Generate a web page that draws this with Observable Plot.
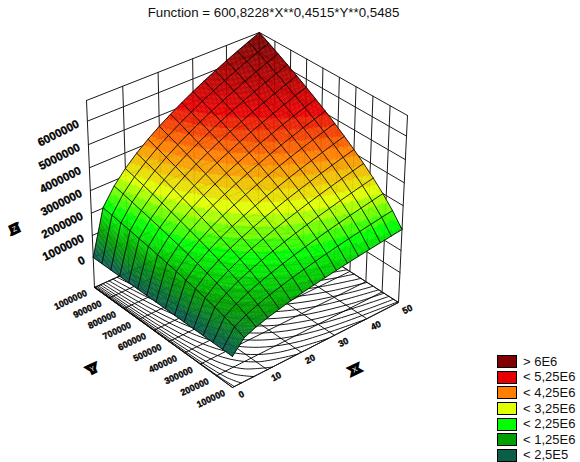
<!DOCTYPE html>
<html><head><meta charset="utf-8">
<script src="https://cdn.jsdelivr.net/npm/d3@7"></script>
<script src="https://cdn.jsdelivr.net/npm/@observablehq/plot@0.6"></script>
<style>
html,body{margin:0;padding:0;background:#fff;}
#wrap{position:relative;width:580px;height:462px;overflow:hidden;font-family:"Liberation Sans",Arial,sans-serif;color:#111;}
#title{position:absolute;left:0;top:5px;width:547px;text-align:center;font-size:13.3px;line-height:16px;white-space:nowrap;}
#legend{position:absolute;left:497px;top:354px;}
.row{display:flex;align-items:center;height:15.6px;font-size:13px;line-height:14px;white-space:nowrap;}
.sw{box-sizing:border-box;width:20px;height:13px;border:1.4px solid #000;margin-right:6px;flex:none;}
svg{display:block;}
</style></head><body>
<div id="wrap"><div id="title"></div><div id="chart"></div><div id="legend"></div></div>
<script>
const titleText = "Function = 600,8228*X**0,4515*Y**0,5485";
const xGrid = [0,3.33,6.67,10,13.33,16.67,20,23.33,26.67,30,33.33,36.67,40,43.33,46.67,50];
const yGrid = [100000,160000,220000,280000,340000,400000,460000,520000,580000,640000,700000,760000,820000,880000,940000,1000000];
// surface heights in thousands, one row per xGrid value, one column per yGrid value
const zThousands = [
[0,0,0,0,0,0,0,0,0,0,0,0,0,0,0,0],
[572,740,881,1006,1119,1223,1321,1413,1500,1583,1663,1739,1814,1885,1955,2022],
[782,1012,1205,1376,1530,1673,1806,1932,2051,2165,2274,2379,2480,2578,2673,2765],
[939,1216,1447,1652,1838,2009,2169,2320,2463,2600,2731,2856,2978,3096,3210,3321],
[1069,1384,1648,1881,2093,2288,2470,2642,2805,2961,3110,3253,3392,3525,3655,3782],
[1182,1531,1822,2081,2314,2530,2732,2921,3102,3274,3439,3597,3751,3899,4042,4182],
[1284,1662,1979,2259,2513,2747,2966,3172,3369,3555,3734,3906,4073,4234,4390,4541],
[1376,1782,2121,2422,2694,2945,3180,3401,3611,3811,4003,4188,4366,4538,4706,4868],
[1462,1893,2253,2573,2862,3128,3378,3612,3836,4048,4252,4448,4638,4821,4999,5171],
[1542,1996,2376,2713,3018,3299,3562,3810,4045,4269,4485,4691,4891,5084,5271,5453],
[1617,2093,2492,2845,3165,3460,3736,3995,4243,4477,4703,4920,5129,5332,5528,5719],
[1688,2185,2602,2970,3304,3612,3900,4171,4429,4674,4910,5136,5355,5566,5771,5970],
[1756,2273,2706,3090,3437,3757,4056,4338,4607,4862,5107,5342,5570,5790,6003,6210],
[1820,2357,2806,3203,3563,3895,4205,4498,4776,5040,5294,5538,5774,6002,6223,6438],
[1882,2437,2901,3312,3684,4027,4348,4651,4939,5212,5475,5727,5971,6206,6435,6657],
[1942,2514,2993,3417,3801,4155,4486,4798,5095,5377,5648,5908,6160,6403,6639,6868]
];
const xTicks = [0,10,20,30,40,50];
const yTicks = [100000,200000,300000,400000,500000,600000,700000,800000,900000,1000000];
const zTicks = [0,1000000,2000000,3000000,4000000,5000000,6000000];
const contourLevels = d3.range(250000,6800000,250000);
const rampLevels = [250000,1250000,2250000,3250000,4250000,5250000,6750000];
const legendColors = ["#0b5f48","#00a000","#00ff00","#e0ff00","#ff8000","#e60000","#800000"];
const legendLabels = ["< 2,5E5","< 1,25E6","< 2,25E6","< 3,25E6","< 4,25E6","< 5,25E6","> 6E6"];

// axis extents of the box and the camera of the view
const xMin=0,xMax=50,yMin=100000,yMax=1000000,zMin=-1390000,zMax=6870000;
const cam={a:[232,190.17,-131.87,-13.36],b:[387,-66.66,-81.28,-204.83],d:[1,.06072,.06523,-.05629]};
function project(X,Y,Z){
  const u=(X-xMin)/(xMax-xMin),v=(Y-yMin)/(yMax-yMin),w=(Z-zMin)/(zMax-zMin);
  const dot=c=>c[0]+c[1]*u+c[2]*v+c[3]*w, h=dot(cam.d);
  return [dot(cam.a)/h,dot(cam.b)/h];
}
let gid=0;
function polyline(pts){const id=gid++;return pts.map(p=>{const q=project(p[0],p[1],p[2]);return {x:q[0],y:q[1],id};});}

// box: walls and floor
let box=[];
for(const z of [zMin,...zTicks,zMax]){
  box.push(...polyline([[xMin,yMax,z],[xMax,yMax,z],[xMax,yMin,z]]));
}
box.push(...polyline([[xMin,yMin,zMin],[xMin,yMax,zMin]]));
box.push(...polyline([[xMin,yMin,zMin],[xMax,yMin,zMin]]));
for(const x of xTicks){
  box.push(...polyline([[x,yMin,zMin],[x,yMax,zMin],[x,yMax,zMax]]));
}
for(const y of yTicks){
  box.push(...polyline([[xMin,y,zMin],[xMax,y,zMin],[xMax,y,zMax]]));
}

// floor contours
const lastRow=xGrid.length-1;
const Z=(i,j)=>zThousands[i][j]*1000;
function contour(level){
  const pts=[],L=Math.log(level);
  for(let j=0;j<yGrid.length;j++){
    if(Z(lastRow,j)<level){
      continue;
    }
    if(j>0&&Z(lastRow,j-1)<level){
      const t=(L-Math.log(Z(lastRow,j-1)))/(Math.log(Z(lastRow,j))-Math.log(Z(lastRow,j-1)));
      pts.push([xMax,Math.exp(Math.log(yGrid[j-1])+t*(Math.log(yGrid[j])-Math.log(yGrid[j-1]))),zMin]);
    }
    let i=1; while(i<lastRow-1&&Z(i+1,j)<level)i++;
    const t=(L-Math.log(Z(i,j)))/(Math.log(Z(i+1,j))-Math.log(Z(i,j)));
    pts.push([Math.exp(Math.log(xGrid[i])+t*(Math.log(xGrid[i+1])-Math.log(xGrid[i]))),yGrid[j],zMin]);
  }
  return polyline(pts);
}
const contours=contourLevels.flatMap(contour);

// surface patches, back to front, shaded by height band
const N=8,bandStep=250000,patches=[];
for(let i=xGrid.length-2;i>=0;i--)for(let j=yGrid.length-2;j>=0;j--){
  for(let a=N-1;a>=0;a--)for(let b=N-1;b>=0;b--){
    const at=(s,t)=>{
      const z=(1-s)*(1-t)*Z(i,j)+s*(1-t)*Z(i+1,j)+(1-s)*t*Z(i,j+1)+s*t*Z(i+1,j+1);
      return [xGrid[i]+s*(xGrid[i+1]-xGrid[i]),yGrid[j]+t*(yGrid[j+1]-yGrid[j]),z];
    };
    const c=[at(a/N,b/N),at((a+1)/N,b/N),at((a+1)/N,(b+1)/N),at(a/N,(b+1)/N)];
    const mean=d3.mean(c,d=>d[2]),band=Math.ceil(mean/bandStep)*bandStep;
    const rows=polyline([...c,c[0]]);
    rows.forEach(r=>r.v=band);
    patches.push(...rows);
  }
}
// surface mesh
let mesh=[];
xGrid.forEach((x,i)=>mesh.push(...polyline(yGrid.map((y,j)=>[x,y,Z(i,j)]))));
yGrid.forEach((y,j)=>mesh.push(...polyline(xGrid.map((x,i)=>[x,y,Z(i,j)]))));

const lbl=(vals,f)=>vals.map(v=>{const q=f(v);return {x:q[0],y:q[1],t:String(v)};});
const zLabels=lbl(zTicks,v=>project(xMin,yMax,v));
const yLabels=lbl(yTicks,v=>project(xMin,v,zMin));
const xLabels=lbl(xTicks,v=>project(v,yMin,zMin));
const axisNames=[
  {t:"Z",q:project(xMin,yMax,2800000),dx:-76,dy:34},
  {t:"Y",q:project(xMin,(yMin+yMax)/2,zMin),dx:-69,dy:33},
  {t:"X",q:project((xMin+xMax)/2,yMin,zMin),dx:37,dy:26}
].map(d=>({t:d.t,x:d.q[0]+d.dx,y:d.q[1]+d.dy}));

const font="Liberation Sans, Arial, sans-serif";
const heavy={fontWeight:"bold",fontFamily:font,fill:"#000",stroke:"#000",strokeWidth:.35};
const chart=Plot.plot({
  width:580,height:462,margin:0,
  x:{domain:[0,580],range:[0,580],axis:null},
  y:{domain:[0,462],range:[0,462],axis:null},
  color:{type:"linear",domain:rampLevels,range:legendColors,clamp:true},
  style:{background:"#fff"},
  marks:[
    Plot.line(box,{x:"x",y:"y",z:"id",stroke:"#1a1a1a",strokeWidth:1}),
    Plot.line(contours,{x:"x",y:"y",z:"id",stroke:"#000",strokeWidth:.9,curve:"catmull-rom"}),
    Plot.line(patches,{x:"x",y:"y",z:"id",fill:"v",stroke:"v",strokeWidth:.35}),
    Plot.line(mesh,{x:"x",y:"y",z:"id",stroke:"#050505",strokeWidth:.85}),
    Plot.text(zLabels,{x:"x",y:"y",text:"t",textAnchor:"end",dx:-9,dy:2,rotate:-27,fontSize:11.5,...heavy}),
    Plot.text(yLabels,{x:"x",y:"y",text:"t",textAnchor:"end",dx:-8,dy:5,rotate:-25,fontSize:9,...heavy}),
    Plot.text(xLabels,{x:"x",y:"y",text:"t",textAnchor:"middle",dx:9,dy:7,rotate:-27,fontSize:9,...heavy}),
    Plot.text(axisNames,{x:"x",y:"y",text:"t",rotate:-25,fontSize:7,fontFamily:font,fill:"#fff",stroke:"#000",strokeWidth:6,strokeLinejoin:"miter",paintOrder:"stroke"})
  ]
});
document.getElementById("chart").appendChild(chart);
document.getElementById("title").textContent=titleText;
const lg=document.getElementById("legend");
for(let k=legendLabels.length-1;k>=0;k--){
  const r=document.createElement("div");r.className="row";
  const s=document.createElement("div");s.className="sw";s.style.background=legendColors[k];
  const t=document.createElement("span");t.textContent=legendLabels[k];
  r.append(s,t);lg.append(r);
}
</script></body></html>
